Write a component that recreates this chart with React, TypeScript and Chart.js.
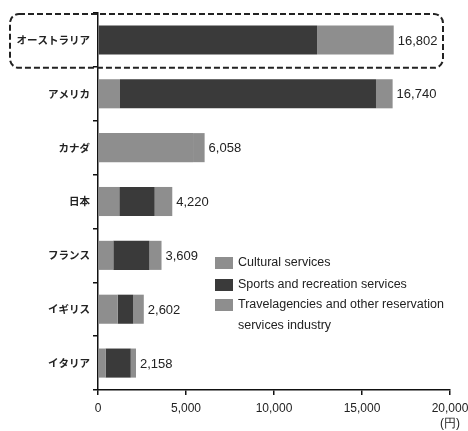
import React, { useEffect, useRef } from "react";
import { Chart, registerables } from "chart.js";

Chart.register(...registerables);

const categories = ["オーストラリア", "アメリカ", "カナダ", "日本", "フランス", "イギリス", "イタリア"];
const cultural = [0, 1250, 5400, 1210, 870, 1120, 430];
const sports = [12450, 14545, 0, 2010, 2050, 880, 1430];
const travel = [4352, 945, 658, 1000, 689, 602, 298];
const totals = ["16,802", "16,740", "6,058", "4,220", "3,609", "2,602", "2,158"];
const seriesNames = ["Cultural services", "Sports and recreation services", "Travelagencies and other reservation|services industry"];
const xTicks = [0, 5000, 10000, 15000, 20000];
const unitLabel = "(円)";

const GREY = "#8e8e8e";
const DARK = "#3a3a3a";
const colors = [GREY, DARK, GREY];

export default function App() {
  const ref = useRef<HTMLCanvasElement | null>(null);
  useEffect(() => {
    document.body.style.margin = "0";
    const canvas = ref.current!;
    const overlay = {
      id: "overlay",
      afterDraw(chart: any) {
        const ctx = chart.ctx;
        const xs = chart.scales.x;
        const ys = chart.scales.y;
        ctx.save();
        // value labels
        ctx.font = "13px 'Liberation Sans', Arial, sans-serif";
        ctx.fillStyle = "#222";
        ctx.textBaseline = "middle";
        ctx.textAlign = "left";
        categories.forEach((_, i) => {
          const sum = cultural[i] + sports[i] + travel[i];
          ctx.fillText(totals[i], xs.getPixelForValue(sum) + 4, ys.getPixelForValue(i) + 1);
        });
        // unit label
        ctx.textAlign = "center";
        ctx.font = "12px 'Liberation Sans', Arial, sans-serif";
        ctx.fillText(unitLabel, xs.getPixelForValue(20000), xs.bottom - 7);
        // legend
        const lx = 215;
        const rows = [263, 285, 305];
        ctx.font = "12.5px 'Liberation Sans', Arial, sans-serif";
        ctx.textAlign = "left";
        seriesNames.forEach((name, k) => {
          ctx.fillStyle = colors[k];
          ctx.fillRect(lx, rows[k] - 6, 18, 12);
          ctx.fillStyle = "#222";
          const lines = name.split("|");
          lines.forEach((ln, j) => ctx.fillText(ln, lx + 23, rows[k] + j * 21));
        });
        // dashed rounded box around first row
        const cy = ys.getPixelForValue(0);
        const half = (ys.getPixelForValue(1) - cy) / 2;
        const bx = 10, by = cy - half + 1, bw = 433, bh = half * 2;
        ctx.setLineDash([6, 3]);
        ctx.lineWidth = 2;
        ctx.strokeStyle = "#222";
        ctx.beginPath();
        (ctx as any).roundRect(bx, by, bw, bh, 9);
        ctx.stroke();
        ctx.restore();
      },
    };
    const chart = new Chart(canvas, {
      type: "bar",
      data: {
        labels: categories,
        datasets: [
          { label: seriesNames[0], data: cultural, backgroundColor: colors[0] },
          { label: seriesNames[1], data: sports, backgroundColor: colors[1] },
          { label: seriesNames[2], data: travel, backgroundColor: colors[2] },
        ],
      },
      options: {
        indexAxis: "y",
        responsive: false,
        animation: false,
        devicePixelRatio: 1,
        layout: { padding: { top: 13, right: 18, left: 0, bottom: 0 } },
        datasets: { bar: { barPercentage: 0.54, categoryPercentage: 1 } },
        plugins: { legend: { display: false }, tooltip: { enabled: false } },
        scales: {
          x: {
            stacked: true,
            min: 0,
            max: 20000,
            afterFit(scale: any) { scale.height = 41; scale.paddingLeft = 0; scale.paddingRight = 0; },
            afterBuildTicks(scale: any) { scale.ticks = xTicks.map((v) => ({ value: v })); },
            grid: { drawOnChartArea: false, tickLength: 5, color: "#111", lineWidth: 1.5 },
            border: { color: "#111", width: 1.5 },
            ticks: {
              padding: 6,
              color: "#222",
              font: { family: "'Liberation Sans', Arial, sans-serif", size: 12 },
              callback: (v: any) => Number(v).toLocaleString("en-US"),
            },
          },
          y: {
            stacked: true,
            afterFit(scale: any) { scale.width = 98; },
            grid: { drawOnChartArea: false, tickLength: 5, color: "#111", lineWidth: 1.5, offset: true },
            border: { color: "#111", width: 1.5 },
            ticks: {
              padding: 3,
              color: "#222",
              font: { family: "'Noto Sans CJK JP', sans-serif", size: 10.5, weight: "bold" },
            },
          },
        },
      },
      plugins: [overlay],
    } as any);
    return () => chart.destroy();
  }, []);
  return (
    <div style={{ width: 468, height: 431 }}>
      <canvas ref={ref} width={468} height={431} style={{ display: "block" }} />
    </div>
  );
}
